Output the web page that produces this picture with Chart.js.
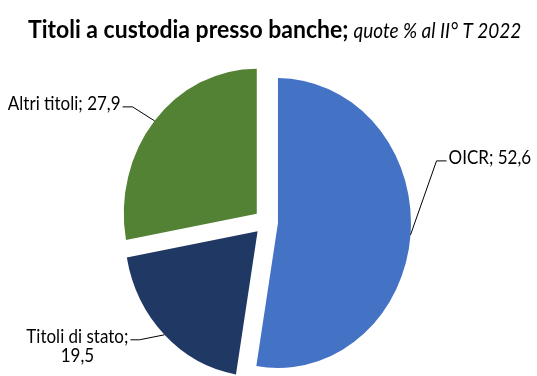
<!DOCTYPE html>
<html>
<head>
<meta charset="utf-8">
<script src="https://cdn.jsdelivr.net/npm/chart.js@4"></script>
<style>
  html, body { margin: 0; padding: 0; background: #fff; }
  #wrap { width: 537px; height: 376px; position: relative; }
</style>
</head>
<body>
<div id="wrap"><canvas id="pie"></canvas></div>
<script>
const categories = ["OICR", "Titoli di stato", "Altri titoli"];
const shares = [52.6, 19.5, 27.9];
const sliceColors = ["#4472C4", "#203864", "#548235"];
// break the label after the ";" for these slices
const wrapLabel = [false, true, false];

const titleBold = "Titoli a custodia presso banche;";
const titleItalic = "quote % al II° T 2022";

const EXPLODE = 12;      // how far each slice is pulled out
const Y_STRETCH = 1.09;  // the original picture is a bit taller than wide
const FONT = "Lato, 'Open Sans', sans-serif";

// leader line: elbow relative to the point on the slice edge, then a short flat tick
const leaderLayout = [
  { dx: 26, dy: -74, tick: 10 },
  { dx: -25, dy: 5, tick: -9 },
  { dx: -22, dy: -14, tick: -10 }
];

function fmt(v) {
  return v.toFixed(1).replace(".", ",");
}

function edgePoint(arc) {
  const mid = (arc.startAngle + arc.endAngle) / 2;
  const d = arc.outerRadius + EXPLODE;
  return {
    x: arc.x + Math.cos(mid) * d,
    y: arc.y + Math.sin(mid) * d * Y_STRETCH
  };
}

// text drawn a little taller, like the rest of the picture
function stretchedText(ctx, text, x, y) {
  ctx.save();
  ctx.translate(x, y);
  ctx.scale(1, Y_STRETCH);
  ctx.fillText(text, 0, 0);
  ctx.restore();
}

const explodedPie = {
  id: "explodedPie",
  beforeDatasetsDraw(chart) {
    const ctx = chart.ctx;
    chart.getDatasetMeta(0).data.forEach(arc => {
      const mid = (arc.startAngle + arc.endAngle) / 2;
      ctx.save();
      ctx.translate(arc.x, arc.y);
      ctx.scale(1, Y_STRETCH);
      ctx.translate(Math.cos(mid) * EXPLODE, Math.sin(mid) * EXPLODE);
      ctx.translate(-arc.x, -arc.y);
      arc.draw(ctx);
      ctx.restore();
    });
    return false;
  },
  afterDraw(chart) {
    const ctx = chart.ctx;
    ctx.save();

    // title, bold part then italic part
    ctx.fillStyle = "#000";
    ctx.textBaseline = "alphabetic";
    ctx.textAlign = "left";
    ctx.font = `bold 23px ${FONT}`;
    stretchedText(ctx, titleBold, 28, 38);
    const w = ctx.measureText(titleBold).width;
    ctx.font = `italic 19px ${FONT}`;
    stretchedText(ctx, titleItalic, 28 + w + 5, 38);

    // data labels with leader lines
    ctx.font = `17px ${FONT}`;
    ctx.strokeStyle = "#000";
    ctx.lineWidth = 1;
    chart.getDatasetMeta(0).data.forEach((arc, i) => {
      const p = edgePoint(arc);
      const lay = leaderLayout[i];
      const ex = p.x + lay.dx, ey = p.y + lay.dy;
      const tx = ex + lay.tick;
      ctx.beginPath();
      ctx.moveTo(p.x, p.y);
      ctx.lineTo(ex, ey);
      ctx.lineTo(tx, ey);
      ctx.stroke();

      const lines = wrapLabel[i]
        ? [categories[i] + ";", fmt(shares[i])]
        : [categories[i] + "; " + fmt(shares[i])];
      const blockW = Math.max(...lines.map(l => ctx.measureText(l).width));
      const left = lay.tick > 0 ? tx + 2 : tx - 2 - blockW;
      ctx.textBaseline = "middle";
      ctx.textAlign = "center";
      lines.forEach((l, k) => {
        stretchedText(ctx, l, left + blockW / 2, ey - 3 + k * 19);
      });
    });
    ctx.restore();
  }
};

new Chart(document.getElementById("pie"), {
  type: "pie",
  data: {
    labels: categories,
    datasets: [{
      data: shares,
      backgroundColor: sliceColors,
      borderWidth: 0
    }]
  },
  options: {
    responsive: true,
    maintainAspectRatio: false,
    animation: false,
    layout: { padding: { left: 133, right: 138, top: 89, bottom: 21 } },
    plugins: {
      legend: { display: false },
      tooltip: { enabled: false },
      title: { display: false }
    }
  },
  plugins: [explodedPie]
});
</script>
</body>
</html>
